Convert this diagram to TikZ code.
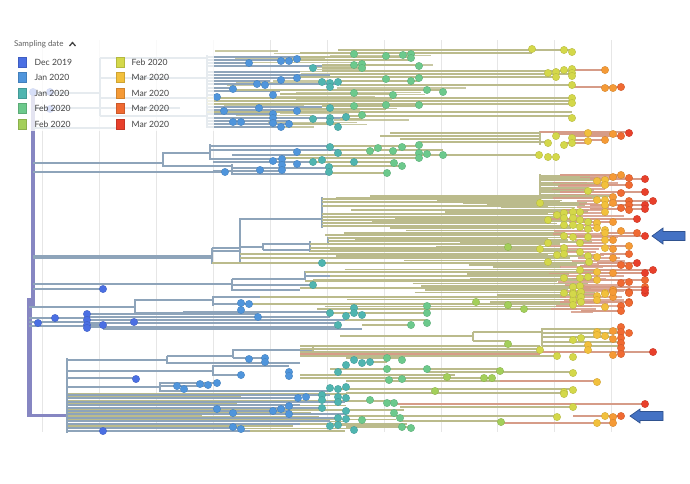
\documentclass[tikz,border=0pt]{standalone}
\usepackage{fontspec}
\setmainfont{Lato}
\definecolor{bgr}{HTML}{8EA4BA}
\definecolor{olv}{HTML}{BBBB8C}
\definecolor{rdb}{HTML}{D69C88}
\definecolor{rootc}{HTML}{8686C2}
\definecolor{gridc}{HTML}{E6E6E6}
\definecolor{dA}{HTML}{4A6FE3}
\definecolor{dB}{HTML}{4F95DC}
\definecolor{dC}{HTML}{4FB5B0}
\definecolor{dD}{HTML}{6CC98C}
\definecolor{dE}{HTML}{A3CF5A}
\definecolor{dF}{HTML}{D4D84A}
\definecolor{dG}{HTML}{F2C03C}
\definecolor{dH}{HTML}{F59A36}
\definecolor{dI}{HTML}{F06A32}
\definecolor{dJ}{HTML}{E8402B}
\definecolor{arrf}{HTML}{4472C4}
\definecolor{arrd}{HTML}{2F528F}
\definecolor{legtxt}{HTML}{444444}
\begin{document}
\begin{tikzpicture}[x=1pt,y=-1pt,
  bb/.style={bgr,line width=1.9pt},
  ob/.style={olv,line width=1.9pt},
  rb/.style={rdb,line width=1.2pt},
  tipdot/.style={fill=#1,draw=#1!85!black,line width=0.3pt},
  swatch/.style={rectangle,minimum width=8pt,minimum height=10pt,inner sep=0pt,draw=#1!85!black,fill=#1,line width=0.3pt},
  legtext/.style={anchor=west,inner sep=0pt,text=legtxt,font=\fontsize{8.6}{10}\selectfont},
  arrowshape/.style={fill=arrf,draw=arrd,line width=0.7pt}]
\useasboundingbox (0,0) rectangle (690,483);
\fill[white] (0,0) rectangle (690,483);
% grid
\foreach \xx in {42,99,156,213,270,327,384,441,497,554,611}
  \draw[gridc,line width=1pt] (\xx,40)--(\xx,432);

% dense olive bands (tip bundles)
\pgfmathsetseed{42}
\foreach \yy in {196,198.3,...,262} {
  \pgfmathsetmacro{\xs}{322+rnd*200}
  \pgfmathsetmacro{\xe}{556+rnd*40}
  \draw[ob,line width=1.7pt] (\xs,\yy)--(\xe,\yy);
}
\foreach \yy in {265,267.3,...,311} {
  \pgfmathsetmacro{\xs}{300+rnd*200}
  \pgfmathsetmacro{\xe}{556+rnd*40}
  \draw[ob,line width=1.7pt] (\xs,\yy)--(\xe,\yy);
}
\foreach \yy in {176,178.3,...,196} {
  \pgfmathsetmacro{\xe}{575+rnd*30}
  \draw[ob,line width=1.7pt] (540,\yy)--(\xe,\yy);
}
\foreach \yy in {177,180,...,312} {
  \pgfmathsetmacro{\xs}{545+rnd*40}
  \pgfmathsetmacro{\xe}{590+rnd*35}
  \draw[rb,opacity=0.85] (\xs,\yy)--(\xe,\yy);
}
\foreach \yy in {394,396.3,...,431} {
  \pgfmathsetmacro{\xe}{200+rnd*220}
  \draw[ob,line width=1.6pt] (67,\yy)--(\xe,\yy);
}
\foreach \yy in {51,53.3,...,128} {
  \pgfmathsetmacro{\xs}{207+rnd*140}
  \pgfmathsetmacro{\xe}{\xs+40+rnd*90}
  \draw[ob,line width=1.5pt,opacity=0.8] (\xs,\yy)--(\xe,\yy);
}

% root
\draw[rootc,line width=3.5pt] (33,90)--(33,308);
\draw[rootc,line width=5pt] (29,298)--(29,417);
\draw[rootc,line width=3pt] (29,415)--(67,415);

% blue-grey branches (horizontal)
\foreach \xa/\xb/\yy in {
  33/100/93, 100/207/58, 100/207/78, 100/207/98, 100/207/116, 33/60/108, 60/180/108, 33/120/128,
  207/300/57, 207/290/60, 207/250/63, 207/322/66, 207/300/72, 207/330/75, 207/297/78, 207/270/81,
  207/340/84, 207/235/88, 207/280/91, 207/220/95, 207/322/107, 207/300/110, 207/274/114, 207/345/118,
  207/290/121, 207/340/124, 207/282/127,
  163/210/153, 163/232/166, 210/330/146, 210/338/150, 232/297/155, 210/282/159, 213/313/162,
  232/330/168, 213/282/171, 232/330/174,
  212/240/248, 212/240/251, 240/322/219, 240/263/247, 263/328/244, 263/310/250,
  232/305/279, 305/330/272, 305/330/276, 232/313/285, 232/300/290,
  135/213/300, 213/260/297, 213/249/304, 135/183/313, 183/330/312,
  87/258/314, 87/330/317, 87/345/320, 87/340/323, 87/103/325, 87/338/327, 103/362/329,
  67/167/360, 167/233/356, 167/232/363, 233/313/350, 233/265/358, 232/300/363,
  67/213/371, 213/289/366, 213/241/375, 67/135/378, 67/160/387, 160/216/383, 160/330/391, 160/208/386,
  67/330/395, 67/300/398, 67/345/402, 67/300/405, 67/322/408, 67/290/411, 67/346/414, 67/338/418,
  67/330/421, 67/300/424, 67/241/428, 67/103/431, 67/250/431}
  \draw[bb] (\xa,\yy)--(\xb,\yy);
\draw[bb,line width=2.6pt] (33,163)--(163,163);
\draw[bb,line width=1.5pt] (33,172)--(225,172);
\draw[bb,line width=3.2pt] (33,257)--(212,257);
\draw[bb,line width=2.4pt] (33,284)--(232,284);
\draw[bb] (33,289)--(103,289);
\draw[bb,line width=2.2pt] (29,307)--(135,307);
\foreach \yy in {318,322,326} \draw[bb,line width=2pt] (29,\yy)--(87,\yy);
% blue-grey verticals
\foreach \xx/\ya/\yb in {
  100/58/116, 207/55/128, 163/152/167, 210/144/160, 232/164/175,
  212/248/264, 263/243/250, 310/241/252, 328/237/245,
  232/279/291, 305/271/280, 135/299/314, 213/296/306, 87/313/329,
  167/356/364, 233/349/358, 213/365/376, 160/382/392}
  \draw[bb] (\xx,\ya)--(\xx,\yb);
\draw[bb,line width=2.6pt] (240,218)--(240,262);
\draw[bb,line width=2.4pt] (322,197)--(322,228);
\draw[bb,line width=2.2pt] (67,358)--(67,433);

% olive branches
\foreach \xa/\xb/\yy in {
  300/532/53, 300/411/57, 290/411/60, 322/419/65, 322/362/68, 297/556/77, 340/419/81, 340/572/85,
  235/443/90, 280/393/94, 322/419/106, 300/386/109, 207/572/112, 345/572/116, 340/362/119, 290/338/124,
  330/420/146, 338/443/150, 297/540/155, 282/419/158, 313/394/162, 330/402/166, 330/387/173,
  400/540/139, 420/548/142,
  540/590/176, 540/600/180, 540/605/184, 540/588/188, 540/597/192, 540/610/196,
  322/540/199, 322/560/202, 322/548/206, 328/548/238, 328/548/241, 310/560/244, 310/540/248, 310/556/251,
  240/548/254, 240/560/258, 212/589/263,
  305/580/272, 330/564/276, 313/580/280, 300/573/288,
  260/560/297, 249/573/304, 330/427/313, 345/427/320, 362/411/325,
  340/473/336, 473/542/332, 473/508/341, 542/621/329, 542/621/333, 542/613/337, 542/621/342, 542/621/346,
  346/402/358, 370/387/362, 330/500/369, 427/573/372, 346/500/381, 389/492/378, 338/435/389, 435/573/389,
  346/564/393, 400/573/407, 346/557/416, 400/501/421, 346/411/427, 338/402/425}
  \draw[ob] (\xa,\yy)--(\xb,\yy);
\foreach \xa/\xb/\yy in {338/572/50, 322/572/71, 330/572/74, 207/572/98, 207/572/101, 207/572/104,
  390/540/133, 380/540/136, 322/548/214, 322/548/217, 322/548/220, 322/548/223, 322/548/226,
  300/540/346, 300/540/349, 300/540/352, 300/557/356, 300/455/375, 300/455/378}
  \draw[ob,line width=2.8pt] (\xa,\yy)--(\xb,\yy);
\foreach \xx/\ya/\yb in {540/131/145, 540/174/200, 473/332/341, 542/328/346, 313/345/357}
  \draw[ob] (\xx,\ya)--(\xx,\yb);

% reddish branches
\foreach \xa/\xb/\yy in {
  572/605/70, 572/621/87, 540/629/132, 556/613/134, 572/621/136, 572/605/140, 564/588/143,
  590/645/179, 560/645/192, 600/653/201, 590/645/205, 590/645/209, 580/637/219, 573/645/236, 600/637/233,
  580/629/246, 600/629/254, 597/637/263, 580/629/266, 560/629/185, 560/621/175, 580/613/222,
  580/653/270, 580/645/273, 580/645/280, 580/645/287, 580/645/290, 560/629/302, 581/621/311,
  300/540/354, 540/653/352, 394/645/404, 573/621/416, 501/613/423, 500/597/381}
  \draw[rb] (\xa,\yy)--(\xb,\yy);

% tips
\def\tipr{3.7pt}
\foreach \x/\y in {103/289, 38/323, 55/318, 87/314, 87/320, 87/325, 87/328, 103/325, 134/322, 136/379, 103/431, 33/92, 50/92, 50/109}
  \path[tipdot=dA] (\x,\y) circle (\tipr);
\foreach \x/\y in {249/63, 281/61, 289/61, 297/59, 257/84, 265/85, 281/80, 297/78, 233/89, 217/97, 273/95,
  224/111, 259/108, 297/111, 233/122, 241/122, 273/114, 273/118, 273/123, 281/127, 289/124,
  225/172, 260/170, 273/161, 282/159, 282/165, 282/170, 297/152, 297/164,
  241/303, 249/304, 241/310, 258/317,
  249/359, 265/358, 265/362, 241/375, 289/372, 289/376, 177/386, 184/389, 200/384, 208/385, 217/383,
  217/409, 233/413, 233/427, 241/429, 273/411, 281/409, 289/406, 289/414, 298/398, 306/397}
  \path[tipdot=dB] (\x,\y) circle (\tipr);
\foreach \x/\y in {313/68, 322/82, 330/83, 330/87, 338/82, 330/108, 313/119, 330/118, 330/122, 346/117, 338/127,
  330/147, 338/153, 313/162, 322/160, 329/167, 329/172, 354/162, 322/263, 313/285,
  330/313, 338/325, 346/316, 354/308, 354/313, 362/315,
  346/365, 338/372, 322/395, 322/400, 322/408, 330/388, 338/389, 338/397, 338/402, 346/387, 346/398,
  346/411, 338/418, 338/425, 330/426, 346/419, 354/360, 362/363, 370/362, 354/430}
  \path[tipdot=dC] (\x,\y) circle (\tipr);
\foreach \x/\y in {354/54, 386/56, 403/55, 411/54, 411/58, 354/65, 362/64, 362/68, 419/66, 386/79, 411/81, 419/78,
  354/93, 393/95, 427/90, 443/92, 354/106, 386/105, 419/105, 362/115,
  370/151, 378/148, 393/151, 402/147, 419/145, 419/153, 419/158, 427/154, 443/155, 394/163, 402/166, 387/173,
  427/306, 427/313, 411/325, 427/323,
  387/358, 402/360, 387/369, 427/369, 389/380, 402/379, 370/400, 387/403, 394/403, 394/413, 400/418, 362/420, 402/427, 411/428}
  \path[tipdot=dD] (\x,\y) circle (\tipr);
\foreach \x/\y in {508/247, 476/302, 508/305, 524/309, 508/344, 500/371, 447/377, 484/378, 492/378, 435/391, 501/422}
  \path[tipdot=dE] (\x,\y) circle (\tipr);
\foreach \x/\y in {532/49, 564/50, 572/52, 548/73, 556/72, 564/70, 572/69, 572/73, 556/77, 572/76, 572/85, 572/98, 572/103, 572/118,
  539/155, 548/157, 556/157, 556/136, 548/143, 564/145, 572/138, 572/143,
  540/203, 548/220, 557/215, 564/213, 573/212, 580/212, 564/218, 573/218, 580/220, 564/225, 573/225, 580/227, 588/191,
  564/236, 573/237, 580/243, 548/243, 540/249, 557/255, 564/248, 564/254, 580/252, 548/262, 588/222, 588/229, 588/237, 588/256, 589/262,
  564/278, 573/287, 573/293, 573/300, 580/270, 580/278, 580/286, 580/293, 580/298, 588/277,
  564/293, 573/294, 581/292, 581/297, 581/302, 573/305,
  573/340, 581/338, 540/350, 557/356, 573/357, 573/373, 564/392, 564/394, 573/390, 573/407, 557/417}
  \path[tipdot=dF] (\x,\y) circle (\tipr);
\foreach \x/\y in {588/133, 588/141, 597/181, 605/180, 605/185, 597/200, 605/200, 605/205, 605/212, 597/223, 597/228, 605/230,
  605/233, 605/240, 605/248, 597/257, 597/272, 597/280, 605/293, 597/296, 597/300, 605/294, 605/307,
  597/332, 597/335, 605/336, 588/345, 588/350, 597/382, 605/416, 597/423}
  \path[tipdot=dG] (\x,\y) circle (\tipr);
\foreach \x/\y in {605/70, 605/88, 613/88, 605/140, 613/134, 613/177, 621/175, 613/197, 613/203, 613/222, 613/240, 613/249,
  613/258, 621/231, 629/246, 613/273, 613/290, 613/297, 613/292, 613/331, 613/339, 613/355, 613/417, 613/423}
  \path[tipdot=dH] (\x,\y) circle (\tipr);
\foreach \x/\y in {621/87, 621/136, 629/178, 629/185, 621/193, 629/201, 629/205, 621/208, 629/210, 637/233, 629/254, 621/265,
  629/266, 629/282, 621/283, 645/280, 645/287, 629/292, 629/302, 621/306, 629/293, 629/303, 621/311, 621/327, 621/332,
  621/338, 621/343, 621/348, 621/354, 629/333, 621/416}
  \path[tipdot=dI] (\x,\y) circle (\tipr);
\foreach \x/\y in {629/133, 645/179, 645/192, 653/201, 645/205, 645/209, 637/219, 645/236, 637/263, 645/273, 653/270,
  645/293, 645/290, 653/352, 645/404}
  \path[tipdot=dJ] (\x,\y) circle (\tipr);

% legend (semi-transparent panel)
\fill[white,opacity=0.78] (0,34) rectangle (214,131);
\node[anchor=west,inner sep=0pt,text=legtxt!85!white,font=\fontsize{8}{9}\selectfont] (lgtitle) at (14,44) {Sampling date};
\draw[legtxt,line width=1.3pt] (69.5,46)--(72.5,42.5)--(75.5,46);
\foreach \c/\t/\yy [count=\i] in {dA/Dec 2019/62, dB/Jan 2020/77.5, dC/Jan 2020/93, dD/Feb 2020/108.5, dE/Feb 2020/124} {
  \node[swatch=\c] (sa\i) at (22,\yy) {};
  \node[legtext] (ta\i) at (34.5,\yy) {\t};
}
\foreach \c/\t/\yy [count=\i] in {dF/Feb 2020/62, dG/Mar 2020/77.5, dH/Mar 2020/93, dI/Mar 2020/108.5, dJ/Mar 2020/124} {
  \node[swatch=\c] (sb\i) at (120,\yy) {};
  \node[legtext] (tb\i) at (131.5,\yy) {\t};
}

% arrows
\path[arrowshape] (652,236)--(663,228)--(663,231.5)--(685,231.5)--(685,240.5)--(663,240.5)--(663,244)--cycle;
\path[arrowshape] (630,416)--(640,409)--(640,411.5)--(663,411.5)--(663,420.5)--(640,420.5)--(640,423)--cycle;
\end{tikzpicture}
\end{document}
